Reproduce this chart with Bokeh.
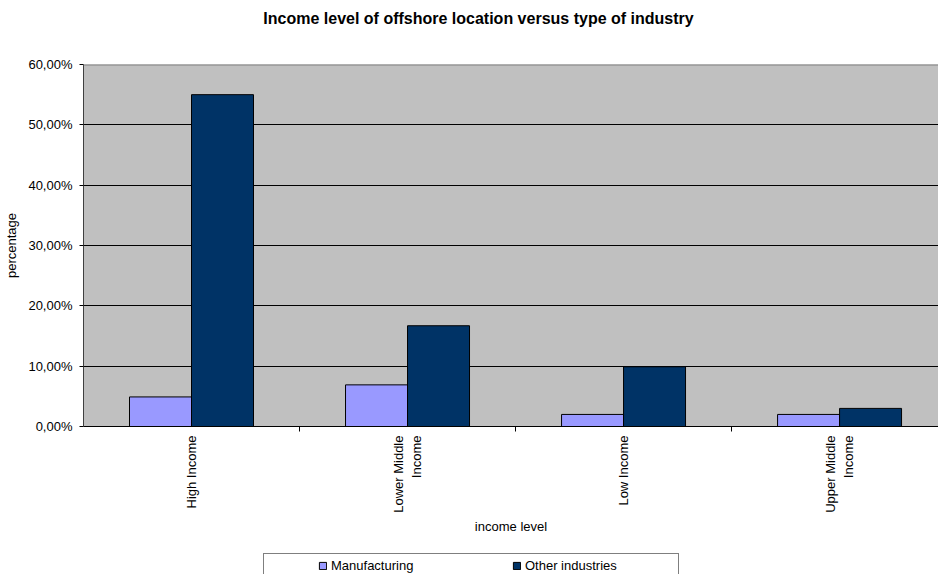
import math
from bokeh.plotting import figure
from bokeh.layouts import column
from bokeh.models import (Range1d, FixedTicker, Legend, LegendItem, Span, Label)
from bokeh.embed import file_html
from bokeh.resources import INLINE

# ---- data ----
categories = ["High Income", "Lower Middle\nIncome", "Low Income", "Upper Middle\nIncome"]
manufacturing = [4.9, 6.9, 2.0, 2.0]
other_industries = [55.0, 16.7, 9.9, 3.0]
y_ticks = [0, 10, 20, 30, 40, 50, 60]
y_tick_labels = ["0,00%", "10,00%", "20,00%", "30,00%", "40,00%", "50,00%", "60,00%"]
series_names = ["Manufacturing", "Other industries"]
colors = ["#9999FF", "#003366"]
title_text = "Income level of offshore location versus type of industry"

FONT = "Liberation Sans"
W = 938
LEFT = 83  # frames of the stacked figures are aligned to this left edge


def bare(fig):
    fig.grid.visible = False
    fig.outline_line_color = None
    fig.background_fill_color = "white"
    fig.border_fill_color = "white"
    return fig


# ---- title strip ----
ft = bare(figure(width=W, height=40, output_backend="svg", toolbar_location=None,
                 x_range=Range1d(LEFT, W), y_range=Range1d(0, 40),
                 x_axis_location=None, y_axis_location=None,
                 min_border=0, min_border_left=LEFT))
ft.add_layout(Label(x=478, y=22, text=title_text, text_font=FONT,
                    text_font_size="16px", text_font_style="bold",
                    text_color="black", text_align="center",
                    text_baseline="middle"))

# ---- main chart ----
p = figure(width=W, height=505, output_backend="svg", toolbar_location=None,
           x_range=Range1d(0, 3.958), y_range=Range1d(0, 60),
           min_border_left=LEFT, min_border_right=0, min_border_top=24,
           min_border_bottom=119)

p.background_fill_color = "#C0C0C0"
p.border_fill_color = "white"
p.outline_line_color = None

centers = [i + 0.5 for i in range(len(categories))]
bw = 0.287
x_m = [c - bw / 2 for c in centers]
x_o = [c + bw / 2 for c in centers]
p.vbar(x=x_m, top=manufacturing, width=bw, bottom=0,
       fill_color=colors[0], line_color="black", line_width=1)
p.vbar(x=x_o, top=other_industries, width=bw, bottom=0,
       fill_color=colors[1], line_color="black", line_width=1)

p.add_layout(Span(location=60, dimension="width", line_color="#808080", line_width=2))

p.xgrid.grid_line_color = None
p.ygrid.ticker = FixedTicker(ticks=y_ticks[1:-1])
p.ygrid.grid_line_color = "black"
p.ygrid.grid_line_width = 1

xa = p.xaxis[0]
xa.ticker = FixedTicker(ticks=centers, minor_ticks=[1, 2, 3])
xa.major_label_overrides = {c: lab for c, lab in zip(centers, categories)}
xa.major_label_orientation = math.pi / 2
xa.major_tick_out = 0
xa.major_tick_in = 0
xa.minor_tick_out = 5
xa.minor_tick_in = 0
xa.minor_tick_line_color = "black"
xa.axis_line_color = "black"
xa.major_label_standoff = 4
xa.major_label_text_font = FONT
xa.major_label_text_font_size = "13px"
xa.major_label_text_color = "black"
xa.axis_label = "income level"
xa.axis_label_text_font = FONT
xa.axis_label_text_font_size = "13px"
xa.axis_label_text_font_style = "normal"
xa.axis_label_text_color = "black"
xa.axis_label_standoff = 3

ya = p.yaxis[0]
ya.ticker = FixedTicker(ticks=y_ticks)
ya.major_label_overrides = {t: lab for t, lab in zip(y_ticks, y_tick_labels)}
ya.major_tick_out = 4
ya.major_tick_in = 0
ya.minor_tick_line_color = None
ya.major_tick_line_color = "black"
ya.axis_line_color = "#404040"
ya.major_label_standoff = 7
ya.major_label_text_font = FONT
ya.major_label_text_font_size = "13px"
ya.major_label_text_color = "black"
ya.axis_label = "percentage"
ya.axis_label_text_font = FONT
ya.axis_label_text_font_size = "13px"
ya.axis_label_text_font_style = "normal"
ya.axis_label_text_color = "black"
ya.axis_label_standoff = 6

# ---- legend strip (series drawn out of view; only their legend swatches show) ----
fl = bare(figure(width=W, height=29, output_backend="svg", toolbar_location=None,
                 x_range=Range1d(100, 101), y_range=Range1d(100, 101),
                 x_axis_location=None, y_axis_location=None,
                 min_border=0, min_border_left=LEFT))
g1 = fl.vbar(x=x_m, top=manufacturing, width=bw, fill_color=colors[0], line_color="black")
g2 = fl.vbar(x=x_o, top=other_industries, width=bw, fill_color=colors[1], line_color="black")
leg = Legend(items=[LegendItem(label=series_names[0], renderers=[g1]),
                    LegendItem(label=series_names[1], renderers=[g2])],
             location=(263 - LEFT, -4), orientation="horizontal",
             padding=4, margin=0, spacing=32,
             glyph_width=9, glyph_height=9, label_standoff=4,
             label_height=14, label_width=149,
             title=" ", title_location="left", title_standoff=45,
             title_text_font_size="4px",
             label_text_font=FONT, label_text_font_size="13px",
             label_text_color="black",
             border_line_color="black", border_line_width=1,
             background_fill_color="white", background_fill_alpha=1)
fl.add_layout(leg, "center")

layout = column(ft, p, fl, spacing=0)
open("out.html", "w").write(file_html(layout, INLINE))
